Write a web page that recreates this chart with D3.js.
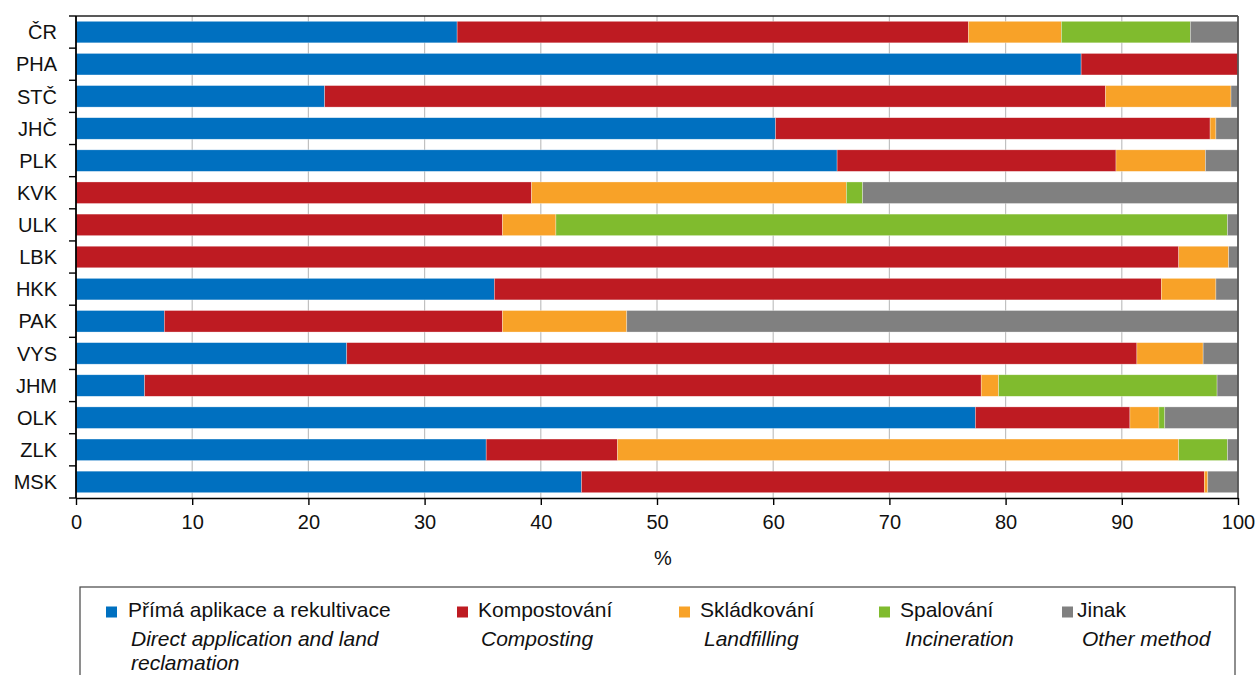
<!DOCTYPE html>
<html>
<head>
<meta charset="utf-8">
<script src="https://cdn.jsdelivr.net/npm/d3@7"></script>
<style>
  html, body { margin: 0; padding: 0; background: #fff; }
  svg { display: block; font-family: "Liberation Sans", Arial, sans-serif; }
</style>
</head>
<body>
<div id="chart"></div>
<script>
// Regions (top to bottom)
const regions = ["ČR", "PHA", "STČ", "JHČ", "PLK", "KVK", "ULK", "LBK", "HKK", "PAK", "VYS", "JHM", "OLK", "ZLK", "MSK"];

// Share of each treatment method, %
const directApplication = [32.8, 86.5, 21.4, 60.2, 65.5, 0, 0, 0, 36.0, 7.6, 23.3, 5.9, 77.4, 35.3, 43.5];
const composting        = [44.0, 13.5, 67.2, 37.4, 24.0, 39.2, 36.7, 94.9, 57.4, 29.1, 68.0, 72.0, 13.3, 11.3, 53.6];
const landfilling       = [8.0, 0, 10.8, 0.5, 7.7, 27.1, 4.6, 4.3, 4.7, 10.7, 5.7, 1.5, 2.5, 48.3, 0.3];
const incineration      = [11.1, 0, 0, 0, 0, 1.4, 57.8, 0, 0, 0, 0, 18.8, 0.5, 4.2, 0];
const otherMethod       = [4.1, 0, 0.6, 1.9, 2.8, 32.3, 0.9, 0.8, 1.9, 52.6, 3.0, 1.8, 6.3, 0.9, 2.6];

const seriesKeys = ["direct", "compost", "landfill", "incin", "other"];
const seriesCz = ["Přímá aplikace a rekultivace", "Kompostování", "Skládkování", "Spalování", "Jinak"];
const seriesEn = [["Direct application and land", "reclamation"], ["Composting"], ["Landfilling"], ["Incineration"], ["Other method"]];
const seriesColors = ["#0070C0", "#BE1B22", "#F8A228", "#80BB2E", "#808080"];

const xTicks = [0, 10, 20, 30, 40, 50, 60, 70, 80, 90, 100];
const xTitle = "%";

const width = 1257, height = 675;
const margin = { top: 16, right: 19, bottom: 177, left: 76 };
const plotW = width - margin.left - margin.right;
const plotH = height - margin.top - margin.bottom;

const rows = regions.map((r, i) => ({
  region: r,
  direct: directApplication[i],
  compost: composting[i],
  landfill: landfilling[i],
  incin: incineration[i],
  other: otherMethod[i]
}));

const stacked = d3.stack().keys(seriesKeys)(rows);

const x = d3.scaleLinear().domain([0, 100]).range([0, plotW]);
const y = d3.scaleBand().domain(regions).range([0, plotH]).paddingInner(0.33).paddingOuter(0.165);
const color = d3.scaleOrdinal().domain(seriesKeys).range(seriesColors);

const svg = d3.select("#chart").append("svg")
  .attr("width", width)
  .attr("height", height);

const g = svg.append("g").attr("transform", `translate(${margin.left},${margin.top})`);

// vertical gridlines
g.append("g")
  .selectAll("line")
  .data(xTicks.filter(t => t > 0 && t < 100))
  .join("line")
  .attr("x1", d => x(d)).attr("x2", d => x(d))
  .attr("y1", 0).attr("y2", plotH)
  .attr("stroke", "#C0C0C0")
  .attr("stroke-width", 1.2);

// bars
g.append("g")
  .selectAll("g")
  .data(stacked)
  .join("g")
  .attr("fill", d => color(d.key))
  .selectAll("rect")
  .data(d => d)
  .join("rect")
  .attr("x", d => x(d[0]))
  .attr("y", d => y(d.data.region))
  .attr("width", d => Math.max(0, x(d[1]) - x(d[0])))
  .attr("height", y.bandwidth())
  .attr("stroke", "#ffffff")
  .attr("stroke-opacity", 0.5)
  .attr("stroke-width", 0.6);

// top and right frame
g.append("line")
  .attr("x1", 0).attr("x2", plotW).attr("y1", 0).attr("y2", 0)
  .attr("stroke", "#222").attr("stroke-width", 1.6);
g.append("line")
  .attr("x1", plotW).attr("x2", plotW).attr("y1", 0).attr("y2", plotH)
  .attr("stroke", "#555").attr("stroke-width", 1.8);

// x axis
const xAxis = g.append("g")
  .attr("transform", `translate(0,${plotH})`)
  .call(d3.axisBottom(x).tickValues(xTicks).tickSize(7).tickSizeOuter(0).tickPadding(10));
xAxis.select(".domain").attr("stroke", "#000").attr("stroke-width", 1.6);
xAxis.selectAll(".tick line").attr("stroke", "#000").attr("stroke-width", 1.4);
xAxis.selectAll(".tick text").attr("font-size", "20px").attr("fill", "#111");

// y axis: ticks at band boundaries
const yAxis = g.append("g");
yAxis.append("line")
  .attr("x1", 0).attr("x2", 0).attr("y1", 0).attr("y2", plotH)
  .attr("stroke", "#000").attr("stroke-width", 1.8);
const step = y.step();
yAxis.selectAll(".ytick")
  .data(d3.range(regions.length + 1))
  .join("line")
  .attr("class", "ytick")
  .attr("x1", -7).attr("x2", 0)
  .attr("y1", i => i * step).attr("y2", i => i * step)
  .attr("stroke", "#000").attr("stroke-width", 1.4);
yAxis.selectAll(".ylabel")
  .data(regions)
  .join("text")
  .attr("class", "ylabel")
  .attr("x", -19)
  .attr("y", d => y(d) + y.bandwidth() / 2)
  .attr("dy", "0.36em")
  .attr("text-anchor", "end")
  .attr("font-size", "20px")
  .attr("fill", "#111")
  .text(d => d);

// x title
svg.append("text")
  .attr("x", 663)
  .attr("y", 565)
  .attr("text-anchor", "middle")
  .attr("font-size", "20px")
  .attr("fill", "#111")
  .text(xTitle);

// legend
const legendBox = { x: 80, y: 587, w: 1155, h: 100 };
svg.append("rect")
  .attr("x", legendBox.x).attr("y", legendBox.y)
  .attr("width", legendBox.w).attr("height", legendBox.h)
  .attr("fill", "none")
  .attr("stroke", "#444")
  .attr("stroke-width", 1.2);

const legendX = [106, 457, 679, 879, 1062];
const legendTextX = [128, 478, 700, 900, 1077];
const legendEnX = [131, 481, 704, 905, 1082];
seriesKeys.forEach((k, i) => {
  const item = svg.append("g");
  item.append("rect")
    .attr("x", legendX[i]).attr("y", 606.5)
    .attr("width", 11).attr("height", 11)
    .attr("fill", color(k));
  item.append("text")
    .attr("x", legendTextX[i]).attr("y", 617)
    .attr("font-size", "21px")
    .attr("fill", "#111")
    .text(seriesCz[i]);
  seriesEn[i].forEach((line, j) => {
    item.append("text")
      .attr("x", legendEnX[i]).attr("y", 646 + j * 24)
      .attr("font-size", "21px")
      .attr("font-style", "italic")
      .attr("fill", "#111")
      .text(line);
  });
});
</script>
</body>
</html>
